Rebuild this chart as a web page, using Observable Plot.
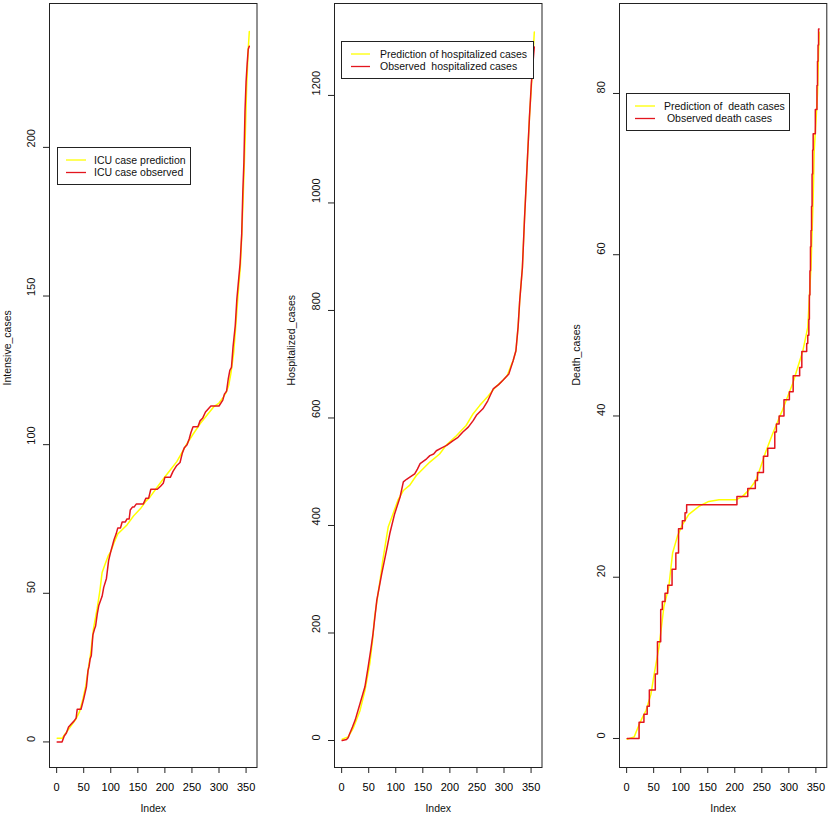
<!DOCTYPE html>
<html><head><meta charset="utf-8">
<script src="https://cdn.jsdelivr.net/npm/d3@7"></script>
<script src="https://cdn.jsdelivr.net/npm/@observablehq/plot@0.6"></script>
<style>
body{margin:0;background:#fff;}
#fig{position:relative;width:829px;height:816px;overflow:hidden;background:#fff;}
.panel{position:absolute;top:0;}
.legend{position:absolute;overflow:visible;}
</style></head><body><div id="fig"></div>
<script>
// ---------- data (index, value) ----------
const xTicks = [0, 50, 100, 150, 200, 250, 300, 350];

const icuYTicks = [0, 50, 100, 150, 200];
const icuPredicted = [[1,1.2],[10,1.2],[15,2.5],[25,5],[35,7.5],[42,10],[48,14],[54,19],[58,24],[63,30],[68,38],[75,45],[80,51],[84,57],[90,60],[95,62.5],[100,64],[106,67],[113,70],[120,71.2],[130,73],[142,76],[155,78.5],[165,81],[173,82.5],[185,85.5],[198,88.7],[210,91.5],[222,94.3],[232,97.5],[241,100.4],[252,103.5],[265,107],[278,110],[290,112.7],[300,114],[308,116],[313,117.5],[318,120],[322,124],[327,130.7],[331,140],[335,150],[339.5,160],[342,170],[345,185],[348.7,205],[351,220],[354,233],[356,239]];
const icuObserved = [[1,0],[10,0],[14,2],[18,3],[22,5],[27,6],[32,7],[36,8],[38,11],[45,11],[50,14.5],[55,18.5],[58,24],[60,25.5],[62,28],[64,29],[67,36],[70,38],[72,39],[75,43],[78,46],[82,48],[84,49],[87,52],[92,55],[96,61],[100,64],[103,66],[106,68],[110,70],[113,72],[118,72],[121,74],[127,74],[130,75],[134,75],[136,78],[140,79],[143,79],[147,80],[160,80],[165,82],[170,82],[174,85],[186,85],[192,86],[197,87],[200,89],[210,89],[215,91],[222,93],[228,94],[232,97],[236,99],[241,100],[245,102],[248,104],[252,106],[261,106],[265,108],[270,109],[275,111],[280,112],[285,113],[300,113],[307,115],[310,117],[314,118],[317,122],[320,125],[323,126],[326,133],[330,140],[333,149],[336,155],[339,161],[342,171],[344,185],[346,195],[348,212],[350,222],[352,228],[354,233],[356,234]];
const icuLabels = ["ICU case prediction", "ICU case observed"];

const hospYTicks = [0, 200, 400, 600, 800, 1000, 1200];
const hospPredicted = [[1,2.4],[12,6.7],[21,22],[28,40],[34,56],[43,93],[52,143],[57,185],[61,230],[66,265],[71,298],[76,335],[80,360],[86,397],[95,422],[104,447],[114,465],[126,475],[138,493],[150,505],[163,518],[181,533],[193,549],[212,567],[230,586],[243,608],[255,623],[270,640],[284,657],[296,668],[306,679],[312,695],[317,707],[322,725],[326,769],[329,818],[334,880],[338,973],[342.5,1066],[347,1159],[350.5,1215],[353,1260],[355,1300],[356,1318]];
const hospObserved = [[1,0],[9,1.8],[12,5],[15,13],[20,25],[25,38],[34,69],[43,100],[49,137],[54,170],[58,199],[65,261],[74,310],[83,354],[89,385],[98,422],[108,453],[114,481],[120,486],[126,490],[135,496],[140,505],[145,515],[157,524],[163,530],[170,533],[175,539],[184,544],[194,549],[206,558],[215,564],[224,574],[234,583],[243,595],[249,605],[261,617],[270,632],[280,654],[290,662],[298,670],[309,682],[317,707],[322,725],[326,769],[329,818],[334,880],[338,973],[342.5,1066],[347,1159],[350.5,1222],[353,1255],[356,1290]];
const hospLabels = ["Prediction of hospitalized cases", "Observed  hospitalized cases"];

const deathYTicks = [0, 20, 40, 60, 80];
const deathPredicted = [[1,-0.1],[14,0.2],[20,1.2],[27,2.3],[36,3.5],[45,5.5],[51,8],[60,11.4],[69,16.4],[78,18.8],[85,23],[94,25.1],[103,26.5],[115,27.8],[134,28.8],[152,29.4],[171,29.6],[202,29.6],[214,30],[226,30.8],[239,32],[248,33.7],[257,35.5],[270,37.8],[288,40.7],[307,44],[326,48.1],[335,51],[341,58.5],[345,67],[347,73],[350,76.3],[353,80],[356,87.6]];
const deathObserved = [[1,0],[23,2],[32,3],[38,4],[42,6],[53,8],[57,12],[63,16],[66,17],[71,18],[76,19],[84,21],[91,23],[96,26],[103,27],[108,28],[111,29],[204,30],[224,31],[238,32],[242,33],[253,35],[261,36],[274,38],[277,39],[282,40],[291,42],[301,43],[308,45],[320,46],[324,48],[333,49],[335,50],[337,52],[338,55],[339,58],[340,61],[341,63],[342,66],[343,70],[344,73],[345,75],[349,78],[352,81],[353,84],[354,86],[355,88],[356,88]];
const deathLabels = ["Prediction of  death cases", " Observed death cases"];

const colors = ["#ffff00", "#e3161e"];
const FONT = "'Liberation Sans', Arial, Helvetica, sans-serif";

// ---------- drawing ----------
const fig = document.getElementById("fig");

function panel(o) {
  const toObj = a => a.map(([i, v]) => ({i, v}));
  const chart = Plot.plot({
    width: o.width, height: 816,
    marginLeft: o.marginLeft, marginRight: o.marginRight, marginTop: 3, marginBottom: 49,
    x: {domain: [-13.2, 370.2]},
    y: {domain: o.yDomain},
    style: {fontFamily: FONT, fontSize: "11px", background: "white", color: "#000", overflow: "visible"},
    marks: [
      Plot.line(toObj(o.pred), {x: "i", y: "v", stroke: colors[0], strokeWidth: 1.5}),
      Plot.line(toObj(o.obs), {x: "i", y: "v", stroke: colors[1], strokeWidth: 1.5, curve: o.obsCurve}),
      Plot.frame({stroke: "#222", strokeWidth: 1}),
      Plot.axisX(xTicks, {tickSize: 6, tickPadding: 10, label: null, fontSize: 11, stroke: "#222"}),
      Plot.axisY(o.yTicks, {tickSize: 6, tickFormat: () => "", label: null, stroke: "#222"}),
      Plot.text(o.yTicks, {y: d => d, text: d => String(d), frameAnchor: "left", dx: -18, rotate: -90, fontSize: 11, fill: "#111"}),
      Plot.text(["Index"], {text: d => d, frameAnchor: "bottom", dy: 44, fontSize: 10.5, fill: "#111"}),
      Plot.text([o.yLabel], {text: d => d, frameAnchor: "left", dx: -o.yLabelDx, rotate: -90, fontSize: 10.5, fill: "#111"})
    ]
  });
  chart.classList.add("panel");
  chart.style.left = o.left + "px";
  fig.appendChild(chart);
}

function legend(o) {
  const svg = d3.select(fig).append("svg").attr("class", "legend")
    .style("left", o.left + "px").style("top", o.top + "px")
    .attr("width", o.w).attr("height", o.h);
  svg.append("rect").attr("x", 0.5).attr("y", 0.5).attr("width", o.w - 1).attr("height", o.h - 1)
    .attr("fill", "white").attr("stroke", "#222").attr("stroke-width", 1);
  o.labels.forEach((lab, k) => {
    const y = o.row0 + k * o.rowGap;
    svg.append("line").attr("x1", o.lx1).attr("x2", o.lx2).attr("y1", y).attr("y2", y)
      .attr("stroke", colors[k]).attr("stroke-width", 1.3);
    svg.append("text").attr("x", o.tx).attr("y", y).attr("dy", "0.36em")
      .style("white-space", "pre").attr("font-family", FONT).attr("font-size", 10.5).attr("fill", "#111")
      .text(lab);
  });
}

panel({pred: icuPredicted, obs: icuObserved, obsCurve: "linear", yDomain: [-8.6, 248.4], yTicks: icuYTicks,
       yLabel: "Intensive_cases", left: 0, width: 276, marginLeft: 49, marginRight: 19.5, yLabelDx: 42});
panel({pred: hospPredicted, obs: hospObserved, obsCurve: "linear", yDomain: [-50.2, 1371], yTicks: hospYTicks,
       yLabel: "Hospitalized_cases", left: 276, width: 276, marginLeft: 58, marginRight: 10.5, yLabelDx: 43});
panel({pred: deathPredicted, obs: deathObserved, obsCurve: "step-after", yDomain: [-3.6, 91.16], yTicks: deathYTicks,
       yLabel: "Death_cases", left: 552, width: 277, marginLeft: 67, marginRight: 2.7, yLabelDx: 43});

legend({left: 57, top: 147, w: 134, h: 38, lx1: 9, lx2: 29, tx: 37, row0: 13, rowGap: 12.5, labels: icuLabels});
legend({left: 341, top: 41, w: 193, h: 38, lx1: 10, lx2: 29, tx: 39, row0: 13, rowGap: 12.5, labels: hospLabels});
legend({left: 626, top: 93, w: 164, h: 38, lx1: 9, lx2: 29, tx: 38, row0: 13, rowGap: 12.5, labels: deathLabels});
</script></body></html>
